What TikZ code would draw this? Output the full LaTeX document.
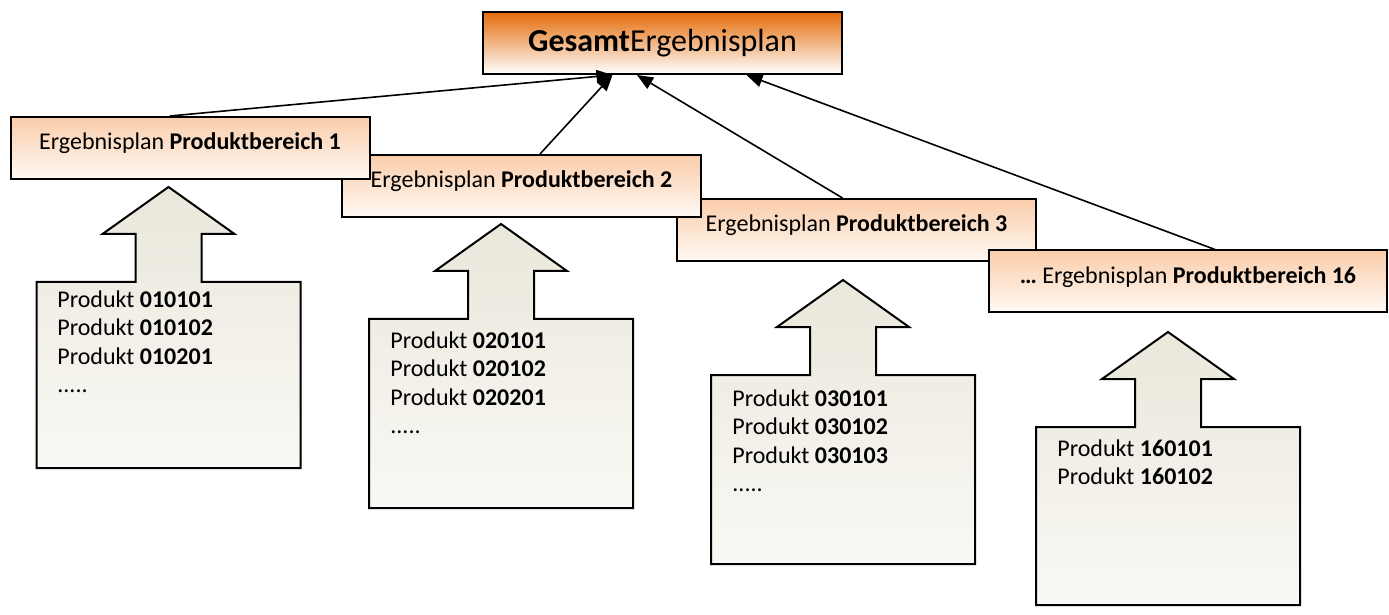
\documentclass[tikz,border=0pt]{standalone}
\usepackage{fontspec}
\setmainfont{Carlito}
\usetikzlibrary{arrows.meta}

\definecolor{orangetop}{RGB}{228,108,10}
\definecolor{orangemid}{RGB}{240,172,140}
\definecolor{plantop}{RGB}{250,205,170}
\definecolor{planbot}{RGB}{255,249,244}
\definecolor{prodtop}{RGB}{234,231,219}
\definecolor{prodbot}{RGB}{249,248,244}

\tikzset{
  gesamt/.style={draw, line width=1pt, minimum width=179.5pt, minimum height=31pt,
    inner sep=0pt, top color=orangetop, middle color=orangemid, bottom color=white,
    font=\fontsize{16}{19}\selectfont},
  plan/.style={draw, line width=1pt, minimum width=179.5pt, minimum height=31pt,
    inner sep=0pt, top color=plantop, bottom color=planbot,
    font=\fontsize{12}{14}\selectfont, text height=9pt, text depth=7pt},
  callout/.style={draw, line width=1pt, top color=prodtop, bottom color=prodbot},
  prodtext/.style={anchor=north west, inner sep=0pt, align=left,
    font=\fontsize{12}{14.25}\selectfont},
  conn/.style={line width=0.8pt, -{Triangle[length=8pt,width=6.5pt]}}
}

\begin{document}
\begin{tikzpicture}[x=0.5pt,y=-0.5pt]
  \useasboundingbox (0,0) rectangle (1389,615);

  % block arrows with product boxes
  \foreach \c/\t/\b in {168.5/282/468, 501/319/508, 843/375/564, 1168/427/605}
    \draw[callout] (\c-132,\t) -- (\c-33,\t) -- (\c-33,\t-48) -- (\c-66,\t-48)
      -- (\c,\t-95) -- (\c+66,\t-48) -- (\c+33,\t-48) -- (\c+33,\t)
      -- (\c+132,\t) -- (\c+132,\b) -- (\c-132,\b) -- cycle;

  \node[prodtext] (p1) at (57,290) {Produkt \textbf{010101}\\Produkt \textbf{010102}\\Produkt \textbf{010201}\\.....};
  \node[prodtext] (p2) at (390,331) {Produkt \textbf{020101}\\Produkt \textbf{020102}\\Produkt \textbf{020201}\\.....};
  \node[prodtext] (p3) at (732,389) {Produkt \textbf{030101}\\Produkt \textbf{030102}\\Produkt \textbf{030103}\\.....};
  \node[prodtext] (p16) at (1057,439) {Produkt \textbf{160101}\\Produkt \textbf{160102}};

  % plan boxes, the left one lies on top
  \node[plan] (pb3) at (856.5,230) {Ergebnisplan \textbf{Produktbereich 3}};
  \node[plan, minimum width=199pt] (pb16) at (1188,281.5) {\textbf{…} Ergebnisplan \textbf{Produktbereich 16}};
  \node[plan] (pb2) at (521.5,186) {Ergebnisplan \textbf{Produktbereich 2}};
  \node[plan] (pb1) at (190,148) {Ergebnisplan \textbf{Produktbereich 1}};

  \node[gesamt] (ges) at (662.5,43) {\textbf{Gesamt}Ergebnisplan};

  \draw[conn] ([xshift=-10pt]pb1.north) -- ([xshift=-25pt]ges.south);
  \draw[conn] ([xshift=9.25pt]pb2.north) -- ([xshift=-25pt]ges.south);
  \draw[conn] ([xshift=-7pt]pb3.north) -- ([xshift=-12.75pt]ges.south);
  \draw[conn] ([xshift=13.5pt]pb16.north) -- ([xshift=42pt]ges.south);
\end{tikzpicture}
\end{document}
